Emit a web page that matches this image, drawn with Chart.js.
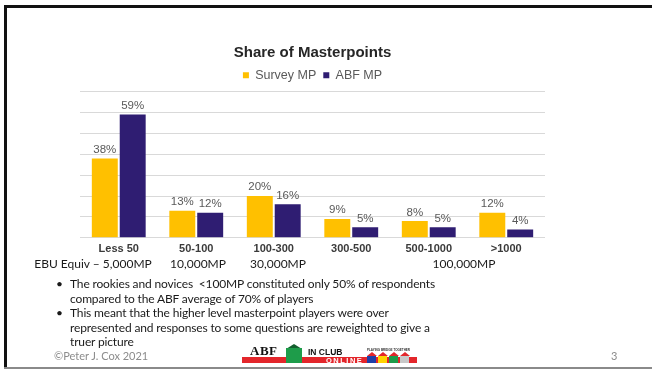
<!DOCTYPE html>
<html>
<head>
<meta charset="utf-8">
<script src="https://cdn.jsdelivr.net/npm/chart.js@4"></script>
<style>
  html, body { margin: 0; padding: 0; background: #fff; }
  #slide { position: relative; width: 652px; height: 370px; overflow: hidden; background: #fff; }
  #frameTop { position: absolute; left: 4px; top: 5px; width: 648px; height: 3px; background: #111; }
  #frameLeft { position: absolute; left: 4px; top: 5px; width: 3px; height: 364px; background: #111; }
  #frameBottom { position: absolute; left: 4px; top: 367px; width: 648px; height: 2px; background: #8a8a8a; }
  #chartBox { position: absolute; left: 0; top: 0; width: 652px; height: 370px; }
  .txt { position: absolute; font-family: Lato, "Open Sans", sans-serif; color: #1a1a1a; white-space: pre; }
  .ebu { top: 256px; font-size: 12px; transform: translateX(-50%); }
  #bullets { position: absolute; left: 56px; top: 277px; font-family: Lato, sans-serif; font-size: 12px; letter-spacing: -0.15px; line-height: 14.5px; color: #1a1a1a; }
  #bullets div { position: relative; padding-left: 14px; white-space: pre; }
  #bullets div::before { content: "\2022"; position: absolute; left: 0; top: 0; }
  .foot { top: 349px; font-size: 11px; color: #8c8c8c; }
  /* footer logo */
  #logo { position: absolute; left: 240px; top: 342px; width: 180px; height: 26px; }
  #logo .strip { position: absolute; left: 2px; top: 15px; width: 175px; height: 6px; background: #e3262b; }
  #logo .abf { position: absolute; left: 10px; top: 1px; font: bold 13px "Liberation Serif", serif; color: #111; letter-spacing: 0.5px; }
  #logo .house { position: absolute; left: 46px; top: 6px; width: 16px; height: 15px; background: #1e9c4a; }
  #logo .roof { position: absolute; left: 46px; top: 2px; width: 0; height: 0; border-left: 8px solid transparent; border-right: 8px solid transparent; border-bottom: 5px solid #145f2e; }
  #logo .inclub { position: absolute; left: 68px; top: 5px; font: bold 8.5px "Liberation Sans", Arial, sans-serif; color: #111; }
  #logo .online { position: absolute; left: 86px; top: 14px; font: bold 7.5px "Liberation Sans", Arial, sans-serif; color: #fff; letter-spacing: 1.5px; }
  #logo .tag { position: absolute; left: 127px; top: 6px; font: bold 3px "Liberation Sans", Arial, sans-serif; color: #333; white-space: nowrap; }
  #logo .hb { position: absolute; top: 14px; width: 9px; height: 7px; }
  #logo .hr { position: absolute; top: 10px; width: 0; height: 0; border-left: 5px solid transparent; border-right: 5px solid transparent; border-bottom: 4px solid #e3262b; }
</style>
</head>
<body>
<div id="slide">
  <div id="frameTop"></div>
  <div id="frameLeft"></div>
  <div id="frameBottom"></div>

  <div id="chartBox"><canvas id="mpChart"></canvas></div>

  <!-- EBU equivalents under the category axis -->
  <div class="txt ebu" style="left: 93px;">EBU Equiv – 5,000MP</div>
  <div class="txt ebu" style="left: 198px;">10,000MP</div>
  <div class="txt ebu" style="left: 278px;">30,000MP</div>
  <div class="txt ebu" style="left: 464px;">100,000MP</div>

  <div id="bullets">
    <div>The rookies and novices  &lt;100MP constituted only 50% of respondents
compared to the ABF average of 70% of players</div>
    <div>This meant that the higher level masterpoint players were over
represented and responses to some questions are reweighted to give a
truer picture</div>
  </div>

  <div class="txt foot" style="left: 54px;">©Peter J. Cox 2021</div>
  <div class="txt foot" style="left: 611px;">3</div>

  <div id="logo">
    <div class="strip"></div>
    <div class="abf">ABF</div>
    <div class="roof"></div>
    <div class="house"></div>
    <div class="inclub">IN CLUB</div>
    <div class="online">ONLINE</div>
    <div class="tag">PLAYING BRIDGE TOGETHER</div>
    <div class="hr" style="left: 127px;"></div><div class="hb" style="left: 127px; background: #1f3fa8;"></div>
    <div class="hr" style="left: 138px;"></div><div class="hb" style="left: 138px; background: #ffd400;"></div>
    <div class="hr" style="left: 149px;"></div><div class="hb" style="left: 149px; background: #1e9c4a;"></div>
    <div class="hr" style="left: 160px;"></div><div class="hb" style="left: 160px; background: #c8c8c8;"></div>
  </div>
</div>

<script>
// 分类与数据
const categories = ['Less 50', '50-100', '100-300', '300-500', '500-1000', '>1000'];
const surveyMP = [38, 13, 20, 9, 8, 12];
const abfMP = [59, 12, 16, 5, 5, 4];
const seriesNames = ['Survey MP', 'ABF MP'];

const CHART_FONT = '"Liberation Sans", Arial, sans-serif';

// 柱顶百分比标签
const valueLabels = {
    id: 'valueLabels',
    afterDatasetsDraw(chart) {
        const ctx = chart.ctx;
        ctx.save();
        ctx.font = '11.5px ' + CHART_FONT;
        ctx.fillStyle = '#595959';
        ctx.textAlign = 'center';
        ctx.textBaseline = 'bottom';
        chart.data.datasets.forEach((ds, i) => {
            chart.getDatasetMeta(i).data.forEach((bar, j) => {
                ctx.fillText(ds.data[j] + '%', bar.x, bar.y - 3);
            });
        });
        ctx.restore();
    }
};

const ctx = document.getElementById('mpChart').getContext('2d');
const mpChart = new Chart(ctx, {
    type: 'bar',
    data: {
        labels: categories,
        datasets: [{
            label: seriesNames[0],
            data: surveyMP,
            backgroundColor: '#ffc000',
            categoryPercentage: 0.72,
            barPercentage: 0.93
        }, {
            label: seriesNames[1],
            data: abfMP,
            backgroundColor: '#2f1d72',
            categoryPercentage: 0.72,
            barPercentage: 0.93
        }]
    },
    options: {
        responsive: true,
        maintainAspectRatio: false,
        animation: false,
        layout: {
            padding: { left: 80, right: 107, top: 44, bottom: 109 }
        },
        scales: {
            x: {
                grid: { display: false, drawTicks: false },
                border: { display: false },
                ticks: {
                    padding: 5,
                    color: '#3a3a3a',
                    font: { family: CHART_FONT, size: 11, weight: 'bold' }
                }
            },
            y: {
                min: 0,
                max: 70,
                ticks: { display: false, stepSize: 10 },
                grid: { color: '#d9d9d9', lineWidth: 1, drawTicks: false },
                border: { display: false }
            }
        },
        plugins: {
            title: {
                display: true,
                text: 'Share of Masterpoints',
                color: '#262626',
                font: { family: CHART_FONT, size: 15, weight: 'bold' },
                padding: { top: 0, bottom: 0 }
            },
            legend: {
                display: true,
                position: 'top',
                labels: {
                    boxWidth: 6,
                    boxHeight: 6,
                    padding: 7,
                    color: '#595959',
                    font: { family: CHART_FONT, size: 12.5 }
                }
            },
            tooltip: { enabled: false }
        }
    },
    plugins: [valueLabels]
});
</script>
</body>
</html>
